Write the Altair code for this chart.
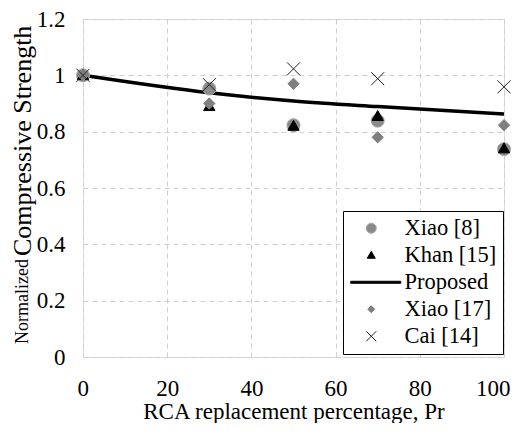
import altair as alt
import pandas as pd

# ---- data ----
pr = [0, 30, 50, 70, 100]
xiao8 = [1.0, 0.953, 0.823, 0.839, 0.738]
khan15 = [1.0, 0.89, 0.82, 0.855, 0.74]
proposed = [1.0, 0.938, 0.909, 0.889, 0.863]
xiao17 = [1.0, 0.90, 0.97, 0.78, 0.823]
cai14 = [1.0, 0.967, 1.023, 0.988, 0.959]

series_names = ["Xiao [8]", "Khan [15]", "Proposed", "Xiao [17]", "Cai [14]"]
x_ticks = [0, 20, 40, 60, 80, 100]
y_ticks = [0, 0.2, 0.4, 0.6, 0.8, 1, 1.2]

rows = []
for name, vals in [("Xiao [8]", xiao8), ("Khan [15]", khan15),
                   ("Xiao [17]", xiao17), ("Cai [14]", cai14)]:
    for x, y in zip(pr, vals):
        rows.append({"series": name, "pr": x, "val": y})
pts = pd.DataFrame(rows)
line_df = pd.DataFrame({"pr": pr, "val": proposed})

FONT = "Liberation Serif, Times New Roman, Times, serif"

TRI = "M0,-0.8L0.8,0.6L-0.8,0.6Z"
DIAM = "M0,-0.7L0.7,0L0,0.7L-0.7,0Z"
XP = "M-1,-1L1,1M-1,1L1,-1"
PROP = "M-4.1,-0.2L5.9,-0.2L5.9,0.2L-4.1,0.2Z"

shape_scale = alt.Scale(domain=series_names, range=["circle", TRI, PROP, DIAM, XP])
fill_scale = alt.Scale(domain=series_names,
                       range=["#8a8a8a", "#000000", "#000000", "#7f7f7f", "transparent"])
stroke_scale = alt.Scale(domain=series_names,
                         range=["#a5a5a5", "#000000", "#000000", "#7f7f7f", "#222222"])

legend = alt.Legend(
    title=None, orient="none", legendX=260, legendY=192,
    strokeColor="#000000", fillColor="#ffffff", padding=6,
    labelFont=FONT, labelFontSize=22.5, labelColor="#000000",
    labelOffset=22, symbolOffset=11, symbolSize=100, symbolStrokeWidth=1,
    rowPadding=4,
)

xenc = alt.X("pr:Q", scale=alt.Scale(domain=[0, 100]),
             axis=alt.Axis(values=x_ticks, title="RCA replacement  percentage, Pr",
                           labelFont=FONT, labelFontSize=23, labelColor="#000000",
                           titleFont=FONT, titleFontSize=23, titleColor="#000000",
                           titleFontWeight="normal", ticks=False, domain=False,
                           labelFlush=True, labelFlushOffset=6,
                           labelPadding=20, titlePadding=0,
                           gridColor="#cfcfcf", gridDash=[5, 4], gridWidth=1))
yenc = alt.Y("val:Q", scale=alt.Scale(domain=[0, 1.2]),
             axis=alt.Axis(values=y_ticks, format="~g", title=None,
                           labelFont=FONT, labelFontSize=23, labelColor="#000000",
                           ticks=False, domain=False, labelPadding=18, labelFlush=False,
                           gridColor="#cfcfcf", gridDash=[5, 4], gridWidth=1))

base = alt.Chart(pts)

def point_layer(name, size):
    return base.transform_filter(alt.datum.series == name).mark_point(
        filled=True, opacity=1, strokeWidth=1, size=size
    ).encode(
        x=xenc, y=yenc,
        shape=alt.Shape("series:N", scale=shape_scale, legend=legend),
        fill=alt.Fill("series:N", scale=fill_scale, legend=legend),
        stroke=alt.Stroke("series:N", scale=stroke_scale, legend=legend),
    )

line = alt.Chart(line_df).mark_line(color="#000000", strokeWidth=3.5,
                                     interpolate="monotone").encode(x=xenc, y=yenc)

title_df = pd.DataFrame({"t": ["Normalized", "Compressive Strength"]})
t1 = alt.Chart(title_df).transform_filter(alt.datum.t == "Normalized").mark_text(
    angle=270, align="left", baseline="middle", font=FONT, fontSize=18, color="#000000"
).encode(x=alt.value(-60), y=alt.value(325), text="t:N")
t2 = alt.Chart(title_df).transform_filter(alt.datum.t == "Compressive Strength").mark_text(
    angle=270, align="left", baseline="middle", font=FONT, fontSize=26, color="#000000"
).encode(x=alt.value(-60), y=alt.value(237), text="t:N")

chart = alt.layer(
    line,
    point_layer("Xiao [8]", 169),
    point_layer("Khan [15]", 200),
    point_layer("Xiao [17]", 260),
    point_layer("Cai [14]", 169),
    t1, t2,
).properties(
    width=421, height=338,
    padding={"left": 1, "top": 0, "right": 0, "bottom": 0},
).configure_view(
    stroke="#404040", strokeWidth=1.2
).configure(background="#ffffff")

chart.save("out.html", embed_options={"renderer": "svg", "actions": False})
